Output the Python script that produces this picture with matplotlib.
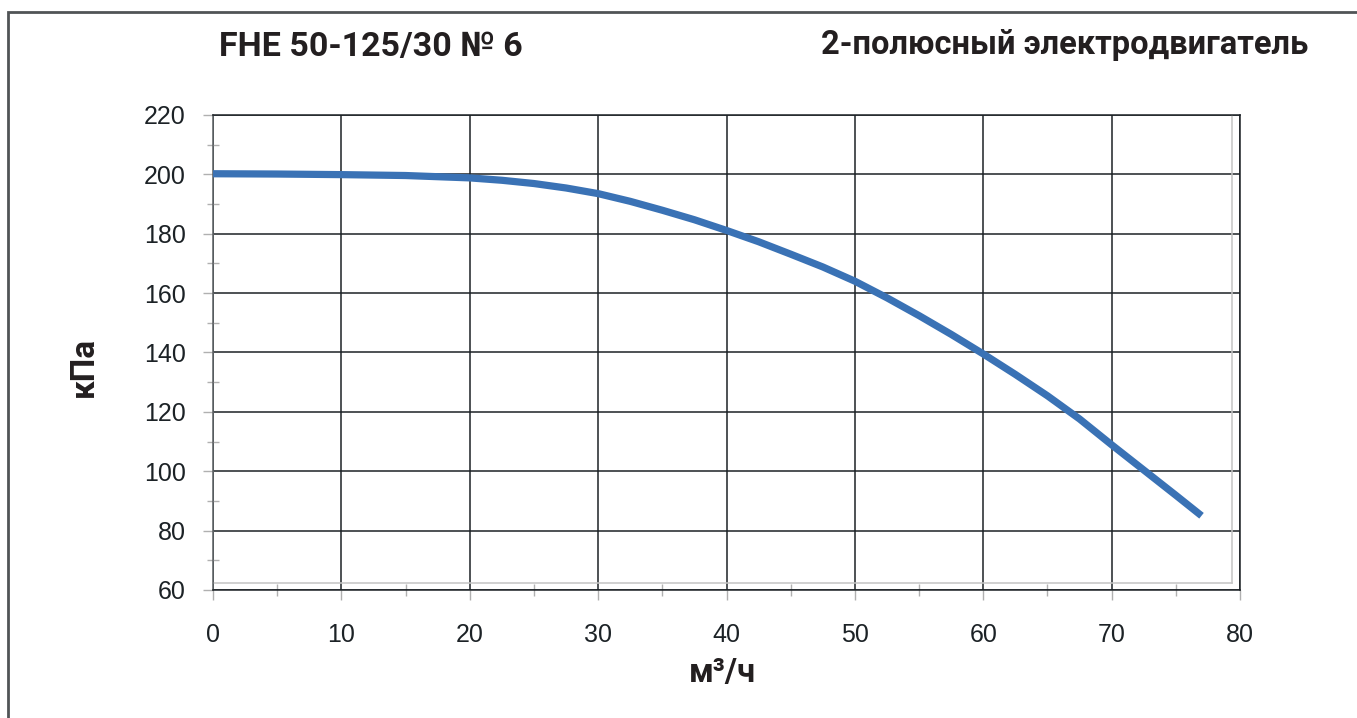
import matplotlib
matplotlib.use("Agg")
import matplotlib.pyplot as plt
from matplotlib.patches import Rectangle
from matplotlib.ticker import MultipleLocator

# pump curve: flow (m3/h) vs head (kPa)
flow = [0, 5, 10, 15, 20, 22.5, 25, 27.5, 30, 32.5, 35, 37.5, 40, 42.5, 45,
        47.5, 50, 52.5, 55, 57.5, 60, 62.5, 65, 67.5, 70, 72.5, 75, 77]
head = [200.2, 200.1, 199.9, 199.6, 198.8, 198.0, 196.9, 195.4, 193.5, 190.9,
        187.9, 184.7, 181.1, 177.3, 173.1, 168.8, 164.0, 158.4, 152.4, 146.1,
        139.5, 132.6, 125.4, 117.6, 108.9, 100.4, 91.9, 85.0]

title_left = "FHE 50-125/30 № 6"
title_right = "2-полюсный электродвигатель"
x_label = "м³/ч"
y_label = "кПа"

heading = ["Roboto", "Liberation Sans", "DejaVu Sans"]
regular = ["Liberation Sans", "DejaVu Sans"]
dark = "#1c2226"
ink = "#231f20"
tick_grey = "#b0b0b0"

fig = plt.figure(figsize=(13.57, 7.18), dpi=100)
ax = fig.add_axes([0.157, 0.1783, 0.7568, 0.6616])

ax.plot(flow, head, color="#3a72b5", lw=5.2, solid_capstyle="butt",
        solid_joinstyle="round", zorder=3)

ax.set_xlim(0, 80)
ax.set_ylim(60, 220)
ax.xaxis.set_major_locator(MultipleLocator(10))
ax.xaxis.set_minor_locator(MultipleLocator(5))
ax.yaxis.set_major_locator(MultipleLocator(20))
ax.yaxis.set_minor_locator(MultipleLocator(10))
ax.grid(True, which="major", color=dark, lw=1.1, zorder=1)

ax.tick_params(which="major", direction="out", length=7, width=1,
               color=tick_grey, labelsize=18, labelcolor=dark)
ax.tick_params(axis="y", which="major", pad=12.5)
ax.tick_params(axis="x", which="major", pad=16.5)
ax.tick_params(which="minor", direction="inout", length=8, width=1,
               color=tick_grey)
for lab in ax.get_xticklabels() + ax.get_yticklabels():
    lab.set_family(regular)

for side in ("top", "right", "bottom"):
    ax.spines[side].set_color(dark)
    ax.spines[side].set_linewidth(1.1)
ax.spines["left"].set_color("#5a5f62")
ax.spines["left"].set_linewidth(1.1)

# inner plot-area outline
ax.axhline(62.25, xmax=79.4 / 80, color="#c4c4c4", lw=1.1, zorder=2)
ax.axvline(79.4, ymin=2.25 / 160, color="#c4c4c4", lw=1.1, zorder=2)

ax.set_xlabel(x_label, family=heading, fontweight="bold", fontsize=23.5,
              color=ink)
ax.xaxis.set_label_coords(0.4956, -0.142)
ax.set_ylabel(y_label, family=heading, fontweight="bold", fontsize=24,
              color=ink)
ax.yaxis.set_label_coords(-0.110, 0.469)

fig.text(371 / 1357, 1 - 47 / 718, title_left, family=heading,
         fontweight="bold", fontsize=24.5, color=ink,
         ha="center", va="center")
fig.text(1308 / 1357, 1 - 45 / 718, title_right, family=heading,
         fontweight="bold", fontsize=23.5, color=ink,
         ha="right", va="center")

# page frame
fig.patches.append(Rectangle((8 / 1357, -0.2), 1.5, 1.2 - 11.5 / 718,
                             transform=fig.transFigure, fill=False,
                             edgecolor="#505456", lw=2))

fig.savefig("out.png", dpi=100)
